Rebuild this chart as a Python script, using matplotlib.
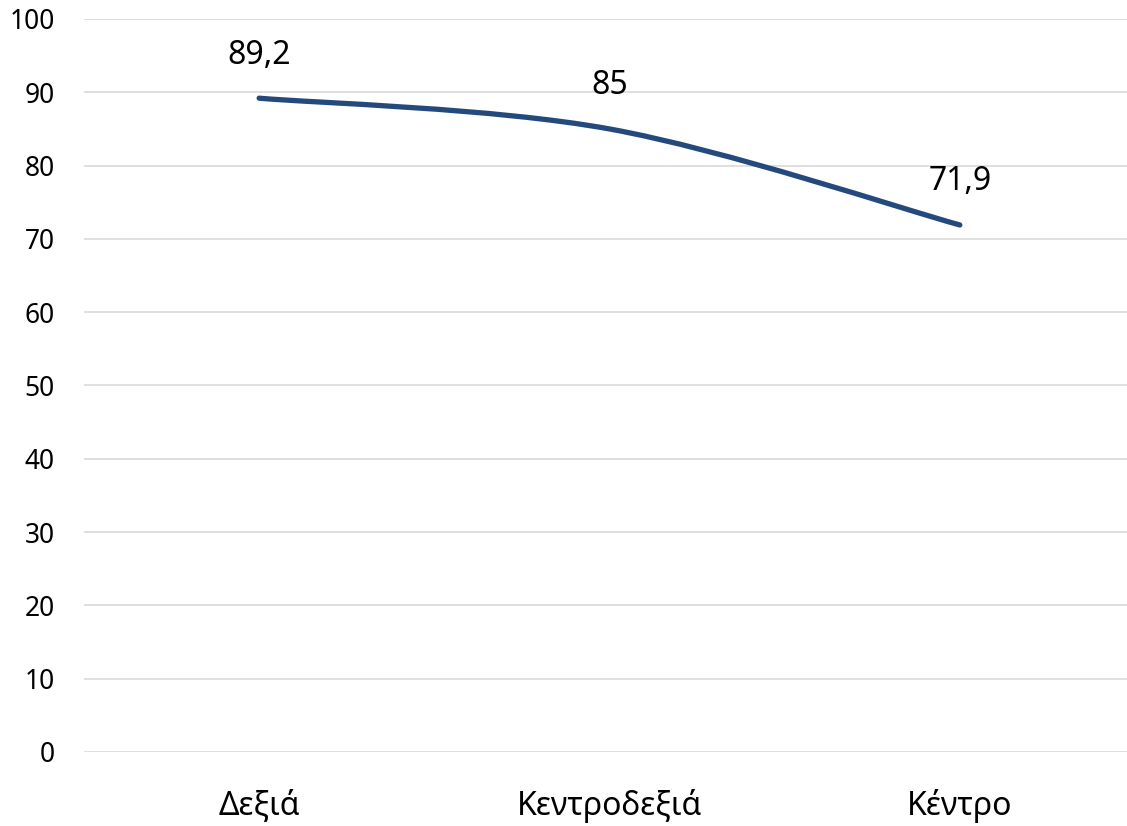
import matplotlib
matplotlib.use("Agg")
import matplotlib.pyplot as plt
from matplotlib.path import Path
from matplotlib.patches import PathPatch

# δεδομένα
categories = ["Δεξιά", "Κεντροδεξιά", "Κέντρο"]
values = [89.2, 85, 71.9]
labels = ["89,2", "85", "71,9"]
y_ticks = list(range(0, 101, 10))

plt.rcParams['font.family'] = ['Noto Sans', 'DejaVu Sans']

fig = plt.figure(figsize=(11.27, 8.26), dpi=100)
ax = fig.add_axes([0.0745, 0.0896, 0.9326, 0.8874])

x = list(range(len(values)))

# εξομαλυσμένη γραμμή (Bezier όπως στο Excel)
pts = list(zip(x, values))
n = len(pts)
verts = [pts[0]]
codes = [Path.MOVETO]
for i in range(n - 1):
    p0 = pts[max(i - 1, 0)]
    p1 = pts[i]
    p2 = pts[i + 1]
    p3 = pts[min(i + 2, n - 1)]
    c1 = (p1[0] + (p2[0] - p0[0]) / 6, p1[1] + (p2[1] - p0[1]) / 6)
    c2 = (p2[0] - (p3[0] - p1[0]) / 6, p2[1] - (p3[1] - p1[1]) / 6)
    verts += [c1, c2, p2]
    codes += [Path.CURVE4] * 3
patch = PathPatch(Path(verts, codes), fill=False, edgecolor='#244A7D',
                  linewidth=3.8, capstyle='round', joinstyle='round', zorder=3)
ax.add_patch(patch)

for xi, v, lab in zip(x, values, labels):
    ax.annotate(lab, (xi, v), xytext=(0, 31), textcoords='offset points',
                ha='center', va='center', fontsize=23, color='black')

ax.set_xlim(-0.5, len(values) - 0.5)
ax.set_ylim(0, 100)
ax.set_yticks(y_ticks)
ax.set_xticks(x)
ax.set_xticklabels(categories)
ax.tick_params(axis='y', length=0, pad=21, labelsize=19)
ax.tick_params(axis='x', length=0, pad=27, labelsize=23)
ax.grid(axis='y', color='#D9D9D9', linewidth=1.2)
ax.set_axisbelow(True)
for s in ax.spines.values():
    s.set_visible(False)

fig.savefig("out.png", dpi=100)
